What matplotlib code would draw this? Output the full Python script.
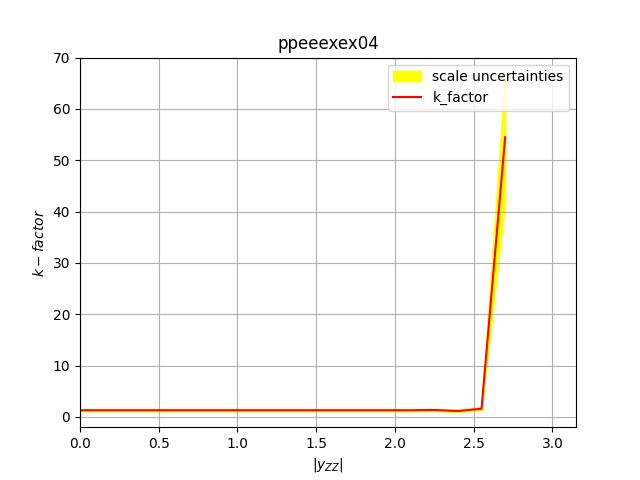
import numpy as np
import matplotlib
matplotlib.use("Agg")
import matplotlib.pyplot as plt

# bin centres and k-factor values
yzz = [0.0, 0.15, 0.3, 0.45, 0.6, 0.75, 0.9, 1.05, 1.2, 1.35, 1.5, 1.65, 1.8, 1.95, 2.1, 2.25, 2.4, 2.55, 2.7]
k_factor = [1.3, 1.3, 1.3, 1.3, 1.3, 1.3, 1.3, 1.3, 1.3, 1.3, 1.3, 1.3, 1.3, 1.3, 1.3, 1.35, 1.15, 1.6, 54.5]
k_low = [1.1, 1.1, 1.1, 1.1, 1.1, 1.1, 1.1, 1.1, 1.1, 1.1, 1.1, 1.1, 1.1, 1.1, 1.1, 1.15, 0.95, 1.3, 42.0]
k_high = [1.5, 1.5, 1.5, 1.5, 1.5, 1.5, 1.5, 1.5, 1.5, 1.5, 1.5, 1.5, 1.5, 1.5, 1.5, 1.55, 1.35, 1.9, 67.0]

fig, ax = plt.subplots(figsize=(6.4, 4.8), dpi=100)
ax.fill_between(yzz, k_low, k_high, color="yellow", label="scale uncertainties")
ax.plot(yzz, k_factor, color="red", label="k_factor")
ax.set_xlim(0, 3.15)
ax.set_ylim(-2, 70)
ax.set_title("ppeeexex04")
ax.set_xlabel("$|y_{ZZ}|$")
ax.set_ylabel("$k-factor$")
ax.grid(True)
ax.legend(loc="upper right")
fig.savefig("out.png")
